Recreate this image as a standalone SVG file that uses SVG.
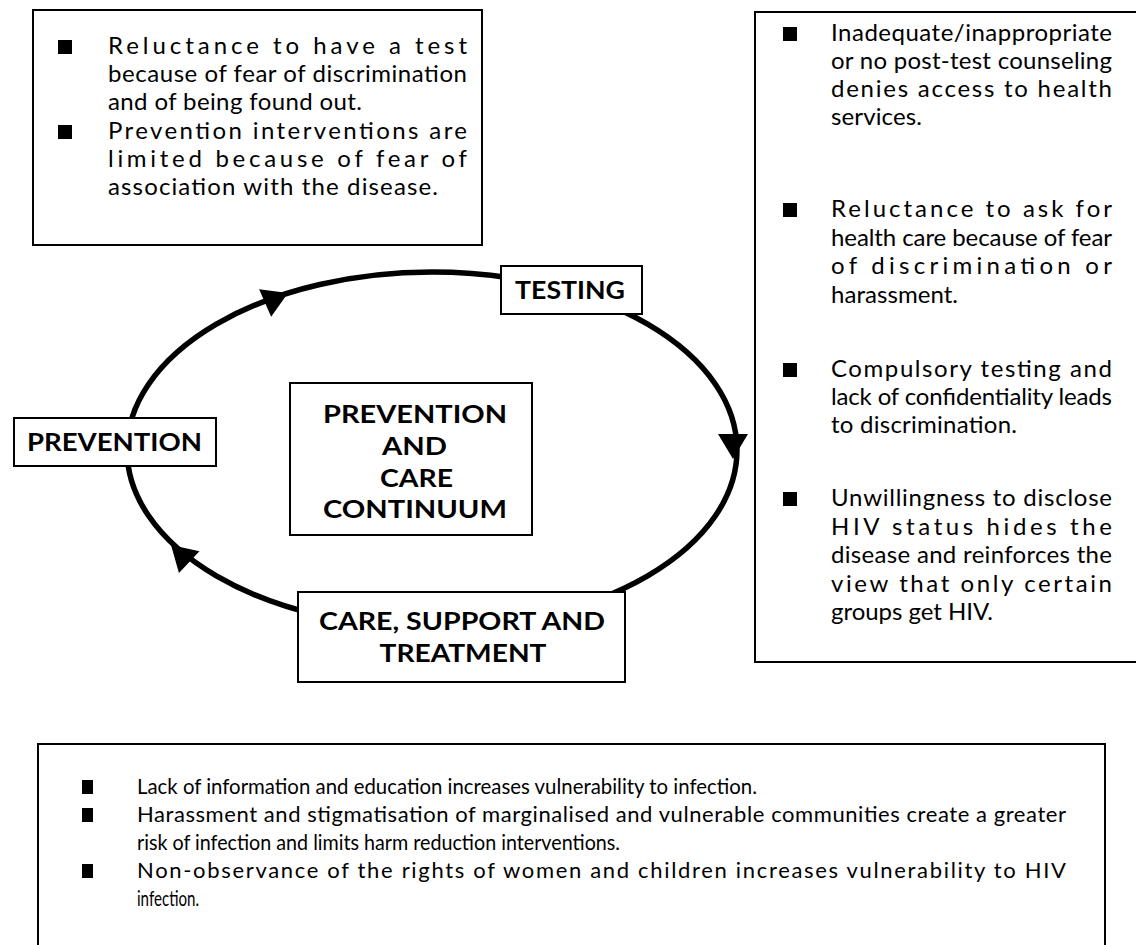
<svg xmlns="http://www.w3.org/2000/svg" xmlns:xlink="http://www.w3.org/1999/xlink" width="1136" height="945" viewBox="0 0 1136 945">
<style>
.box{fill:#fff;stroke:#000;stroke-width:2}
.t{font-family:Lato,"Liberation Sans",sans-serif;font-size:24px;fill:#000}
.tb{font-family:Lato,"Liberation Sans",sans-serif;font-size:22px;fill:#000}
.h{font-family:Lato,"Liberation Sans",sans-serif;font-weight:700;font-size:25px;fill:#000;text-anchor:middle}
.loop{fill:none;stroke:#000;stroke-width:5.5}
.bul{fill:#000}
</style>
<defs>
<path id="ah" d="M0,0 L-25,-15 L-25,15 Z" fill="#000"/>
</defs>
<rect width="1136" height="945" fill="#fff"/>

<g id="connectors">
<ellipse class="loop" cx="432" cy="450" rx="305" ry="178"/>
<use xlink:href="#ah" transform="translate(288,293) rotate(-23.7)"/>
<use xlink:href="#ah" transform="translate(733,459) rotate(90)"/>
<use xlink:href="#ah" transform="translate(171,545) rotate(-136.8)"/>
</g>

<g id="node-testing">
<rect class="box" x="501" y="266" width="141" height="48"/>
<text class="h" x="570" y="299" font-size="23" textLength="110" lengthAdjust="spacingAndGlyphs">TESTING</text>
</g>

<g id="node-prevention">
<rect class="box" x="14" y="418" width="202" height="48"/>
<text class="h" x="114.5" y="451" textLength="175" lengthAdjust="spacingAndGlyphs">PREVENTION</text>
</g>

<g id="node-care">
<rect class="box" x="298" y="592" width="327" height="90"/>
<text class="h" x="462" y="630" textLength="286" lengthAdjust="spacingAndGlyphs">CARE, SUPPORT AND</text>
<text class="h" x="463" y="662" textLength="167" lengthAdjust="spacingAndGlyphs">TREATMENT</text>
</g>

<g id="node-center">
<rect class="box" x="290" y="383" width="242" height="152"/>
<text class="h" x="415" y="423" font-size="26" textLength="184" lengthAdjust="spacingAndGlyphs">PREVENTION</text>
<text class="h" x="414.5" y="455" font-size="26" textLength="65" lengthAdjust="spacingAndGlyphs">AND</text>
<text class="h" x="416.5" y="487" font-size="26" textLength="73" lengthAdjust="spacingAndGlyphs">CARE</text>
<text class="h" x="415" y="518" font-size="26" textLength="184" lengthAdjust="spacingAndGlyphs">CONTINUUM</text>
</g>

<g id="box-prevention-barriers">
<rect class="box" x="33" y="10" width="449" height="235"/>
<rect class="bul" x="58" y="40" width="14" height="14"/>
<rect class="bul" x="58" y="125" width="14" height="14"/>
<text class="t" x="108" y="54" textLength="359" lengthAdjust="spacing">Reluctance to have a test</text>
<text class="t" x="108" y="82" textLength="359" lengthAdjust="spacing">because of fear of discrimination</text>
<text class="t" x="108" y="110" textLength="254" lengthAdjust="spacing">and of being found out.</text>
<text class="t" x="108" y="139" textLength="359" lengthAdjust="spacing">Prevention interventions are</text>
<text class="t" x="108" y="167" textLength="359" lengthAdjust="spacing">limited because of fear of</text>
<text class="t" x="108" y="195" textLength="330" lengthAdjust="spacing">association with the disease.</text>
</g>

<g id="box-testing-care-barriers">
<rect class="box" x="755" y="12" width="390" height="650"/>
<rect class="bul" x="783" y="27" width="14" height="14"/>
<rect class="bul" x="783" y="203" width="14" height="14"/>
<rect class="bul" x="783" y="363" width="14" height="14"/>
<rect class="bul" x="783" y="492" width="14" height="14"/>
<text class="t" x="831" y="41" textLength="281" lengthAdjust="spacing">Inadequate/inappropriate</text>
<text class="t" x="831" y="69" textLength="281" lengthAdjust="spacing">or no post-test counseling</text>
<text class="t" x="831" y="97" textLength="281" lengthAdjust="spacing">denies access to health</text>
<text class="t" x="831" y="125" textLength="91" lengthAdjust="spacing">services.</text>
<text class="t" x="831" y="217" textLength="281" lengthAdjust="spacing">Reluctance to ask for</text>
<text class="t" x="831" y="246" textLength="281" lengthAdjust="spacing">health care because of fear</text>
<text class="t" x="831" y="274" textLength="281" lengthAdjust="spacing">of discrimination or</text>
<text class="t" x="831" y="303" textLength="127" lengthAdjust="spacing">harassment.</text>
<text class="t" x="831" y="377" textLength="281" lengthAdjust="spacing">Compulsory testing and</text>
<text class="t" x="831" y="405" textLength="281" lengthAdjust="spacing">lack of confidentiality leads</text>
<text class="t" x="831" y="433" textLength="186" lengthAdjust="spacing">to discrimination.</text>
<text class="t" x="831" y="506" textLength="281" lengthAdjust="spacing">Unwillingness to disclose</text>
<text class="t" x="831" y="535" textLength="281" lengthAdjust="spacing">HIV status hides the</text>
<text class="t" x="831" y="563" textLength="281" lengthAdjust="spacing">disease and reinforces the</text>
<text class="t" x="831" y="592" textLength="281" lengthAdjust="spacing">view that only certain</text>
<text class="t" x="831" y="620" textLength="162" lengthAdjust="spacing">groups get HIV.</text>
</g>

<g id="box-general-barriers">
<rect class="box" x="38" y="744" width="1067" height="215"/>
<rect class="bul" x="82" y="780" width="11" height="14"/>
<rect class="bul" x="82" y="808" width="11" height="14"/>
<rect class="bul" x="82" y="864" width="11" height="14"/>
<text class="tb" x="137" y="794" textLength="620" lengthAdjust="spacingAndGlyphs">Lack of information and education increases vulnerability to infection.</text>
<text class="tb" x="137" y="822" textLength="929" lengthAdjust="spacing">Harassment and stigmatisation of marginalised and vulnerable communities create a greater</text>
<text class="tb" x="137" y="850" textLength="483" lengthAdjust="spacingAndGlyphs">risk of infection and limits harm reduction interventions.</text>
<text class="tb" x="137" y="878" textLength="929" lengthAdjust="spacing">Non-observance of the rights of women and children increases vulnerability to HIV</text>
<text class="tb" x="137" y="906" textLength="62" lengthAdjust="spacingAndGlyphs">infection.</text>
</g>
</svg>
